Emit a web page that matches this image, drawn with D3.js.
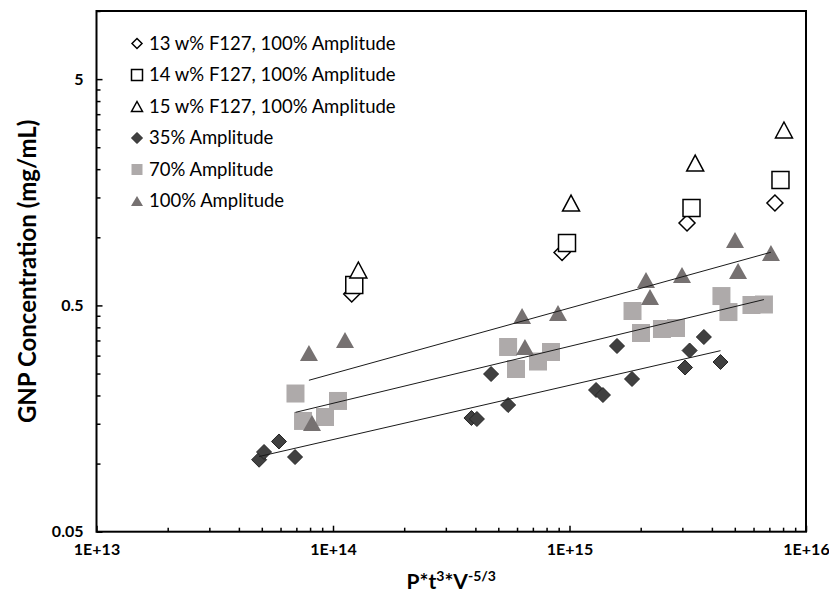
<!DOCTYPE html>
<html>
<head>
<meta charset="utf-8">
<script src="https://cdn.jsdelivr.net/npm/d3@7"></script>
<style>
  html, body { margin: 0; padding: 0; background: #fff; }
  svg { display: block; font-family: Lato, "Liberation Sans", sans-serif; }
</style>
</head>
<body>
<svg id="chart" width="829" height="597"></svg>
<script>
// ---------------- DATA ----------------
// 13 w% F127, 100% Amplitude (open diamonds)
const x13 = [1.20e14, 9.30e14, 3.14e15, 7.39e15];
const y13 = [0.562, 0.857, 1.156, 1.417];
// 14 w% F127, 100% Amplitude (open squares)
const x14 = [1.23e14, 9.76e14, 3.28e15, 7.80e15];
const y14 = [0.615, 0.943, 1.347, 1.791];
// 15 w% F127, 100% Amplitude (open triangles)
const x15 = [1.28e14, 1.015e15, 3.40e15, 8.07e15];
const y15 = [0.717, 1.417, 2.129, 2.980];
// 35% Amplitude (filled diamonds)
const x35 = [4.87e13, 5.11e13, 5.91e13, 6.91e13, 3.85e14, 4.06e14, 4.66e14, 5.50e14,
             1.295e15, 1.385e15, 1.588e15, 1.838e15, 3.08e15, 3.22e15, 3.70e15, 4.35e15];
const y35 = [0.104, 0.1125, 0.1252, 0.1069, 0.159, 0.1574, 0.2488, 0.1815,
             0.2114, 0.2009, 0.3308, 0.2365, 0.2658, 0.316, 0.3625, 0.2811];
// 70% Amplitude (filled squares)
const x70 = [6.94e13, 7.47e13, 9.25e13, 1.05e14, 5.50e14, 5.94e14, 7.36e14, 8.35e14,
             1.847e15, 2.006e15, 2.46e15, 2.82e15, 4.39e15, 4.70e15, 5.88e15, 6.64e15];
const y70 = [0.204, 0.1543, 0.1606, 0.1891, 0.3275, 0.2618, 0.2825, 0.3112,
             0.4723, 0.3776, 0.3933, 0.3973, 0.550, 0.4674, 0.5021, 0.5047];
// 100% Amplitude (filled triangles)
const x100 = [7.91e13, 1.124e14, 8.15e13, 6.30e14, 6.48e14, 8.94e14,
              2.106e15, 2.19e15, 2.99e15, 5.01e15, 5.16e15, 7.11e15];
const y100 = [0.3081, 0.3516, 0.1511, 0.449, 0.3275, 0.4627,
              0.6474, 0.5445, 0.6813, 0.9727, 0.7096, 0.852];

const legendLabels = ["13 w% F127, 100% Amplitude", "14 w% F127, 100% Amplitude",
                      "15 w% F127, 100% Amplitude", "35% Amplitude", "70% Amplitude", "100% Amplitude"];
const xTickValues = [1e13, 1e14, 1e15, 1e16];
const xTickLabels = ["1E+13", "1E+14", "1E+15", "1E+16"];
const yTickValues = [0.05, 0.5, 5];
const yTickLabels = ["0.05", "0.5", "5"];
const yTitle = "GNP Concentration (mg/mL)";

// ---------------- LAYOUT ----------------
const svg = d3.select("#chart");
const L = 96.5, R = 806, T = 11, B = 531.7;
const x = d3.scaleLog().domain([1e13, 1e16]).range([L, R]);
const y = d3.scaleLog().domain([0.05, 10]).range([B, T]);

// minor ticks (multiples of the axis minimum within each decade)
const xMinor = [];
[1e13, 1e14, 1e15].forEach(b => { for (let k = 2; k <= 9; k++) xMinor.push(b * k); });
const yMinor = [];
[0.05, 0.5].forEach(b => { for (let k = 2; k <= 9; k++) yMinor.push(b * k); });
yMinor.push(10);

const gx = svg.append("g").attr("transform", `translate(0,${B})`);
gx.append("g").call(d3.axisBottom(x).tickValues(xMinor).tickSize(-4).tickFormat(""));
gx.append("g").call(d3.axisBottom(x).tickValues(xTickValues).tickSize(-6).tickPadding(12)
   .tickFormat((d, i) => xTickLabels[i]));
const gy = svg.append("g").attr("transform", `translate(${L},0)`);
gy.append("g").call(d3.axisLeft(y).tickValues(yMinor).tickSize(-4).tickFormat(""));
gy.append("g").call(d3.axisLeft(y).tickValues(yTickValues).tickSize(-6).tickPadding(13)
   .tickFormat((d, i) => yTickLabels[i]));
svg.selectAll(".domain").remove();
svg.selectAll(".tick line").attr("stroke", "#000").attr("stroke-width", 1.5);
svg.selectAll(".tick text").attr("font-family", "Lato, sans-serif").attr("font-weight", "bold")
   .attr("font-size", 16).attr("fill", "#000");

// frame
svg.append("rect").attr("x", L).attr("y", T).attr("width", R - L).attr("height", B - T)
   .attr("fill", "none").attr("stroke", "#000").attr("stroke-width", 2);

// ---------------- MARKERS ----------------
const diamond = r => `M0,${-r}L${r},0L0,${r}L${-r},0Z`;
const square = a => `M${-a/2},${-a/2}h${a}v${a}h${-a}Z`;
const triangle = (w, h) => `M0,${-h/2}L${w/2},${h/2}L${-w/2},${h/2}Z`;

const zip = (xs, ys) => xs.map((v, i) => ({x: v, y: ys[i]}));

// trendlines (power-law least squares)
function trend(xs, ys) {
  const lx = xs.map(Math.log10), ly = ys.map(Math.log10);
  const mx = d3.mean(lx), my = d3.mean(ly);
  const b = d3.sum(lx, (v, i) => (v - mx) * (ly[i] - my)) / d3.sum(lx, v => (v - mx) ** 2);
  const a = my - b * mx;
  const x0 = d3.min(xs), x1 = d3.max(xs);
  return [x0, x1].map(v => ({x: v, y: Math.pow(10, a + b * Math.log10(v))}));
}
const line = d3.line().x(d => x(d.x)).y(d => y(d.y));

const series = [
  {data: zip(x35, y35), path: diamond(7.5), fill: "#404040", stroke: "#262626", sw: 1},
  {data: zip(x70, y70), path: square(18), fill: "#aeaaaa", stroke: "none", sw: 0},
  {data: zip(x100, y100), path: triangle(18, 16), fill: "#767171", stroke: "none", sw: 0},
  {data: zip(x13, y13), path: diamond(8), fill: "#fff", stroke: "#000", sw: 1.5},
  {data: zip(x14, y14), path: square(17), fill: "#fff", stroke: "#000", sw: 1.5},
  {data: zip(x15, y15), path: triangle(17, 16), fill: "#fff", stroke: "#000", sw: 1.5}
];

series.slice(0, 3).forEach(s => {
  svg.selectAll(null).data(s.data).enter().append("path")
    .attr("d", s.path).attr("transform", d => `translate(${x(d.x)},${y(d.y)})`)
    .attr("fill", s.fill).attr("stroke", s.stroke).attr("stroke-width", s.sw);
});
[[x35, y35], [x70, y70], [x100, y100]].forEach(([xs, ys]) => {
  svg.append("path").attr("d", line(trend(xs, ys))).attr("fill", "none")
     .attr("stroke", "#1a1a1a").attr("stroke-width", 1);
});
series.slice(3).forEach(s => {
  svg.selectAll(null).data(s.data).enter().append("path")
    .attr("d", s.path).attr("transform", d => `translate(${x(d.x)},${y(d.y)})`)
    .attr("fill", s.fill).attr("stroke", s.stroke).attr("stroke-width", s.sw);
});

// ---------------- LEGEND ----------------
const legMarks = [
  {path: diamond(5), fill: "#fff", stroke: "#000", sw: 1.5},
  {path: square(11), fill: "#fff", stroke: "#000", sw: 1.5},
  {path: triangle(11, 10), fill: "#fff", stroke: "#000", sw: 1.5},
  {path: diamond(5.5), fill: "#404040", stroke: "#262626", sw: 1},
  {path: square(11), fill: "#aeaaaa", stroke: "none", sw: 0},
  {path: triangle(12, 10), fill: "#767171", stroke: "none", sw: 0}
];
const legY = [43.5, 75, 106.5, 138, 169.5, 201];
const leg = svg.append("g");
legendLabels.forEach((t, i) => {
  leg.append("path").attr("d", legMarks[i].path)
     .attr("transform", `translate(137,${legY[i]})`)
     .attr("fill", legMarks[i].fill).attr("stroke", legMarks[i].stroke)
     .attr("stroke-width", legMarks[i].sw);
  leg.append("text").attr("x", 149).attr("y", legY[i]).attr("dy", "0.35em")
     .attr("font-size", 18.5).attr("fill", "#000").text(t);
});

// ---------------- TITLES ----------------
const xt = svg.append("text").attr("x", (L + R) / 2).attr("y", 589)
   .attr("text-anchor", "middle").attr("font-weight", "bold").attr("font-size", 21).attr("fill", "#000");
xt.append("tspan").text("P*t");
xt.append("tspan").attr("font-size", 14).attr("dy", -8).text("3");
xt.append("tspan").attr("dy", 8).text("*V");
xt.append("tspan").attr("font-size", 14).attr("dy", -8).text("-5/3");

svg.append("text").attr("transform", `translate(36,${(T + B) / 2}) rotate(-90)`)
   .attr("text-anchor", "middle").attr("font-weight", "bold").attr("font-size", 24)
   .attr("fill", "#000").text(yTitle);
</script>
</body>
</html>
